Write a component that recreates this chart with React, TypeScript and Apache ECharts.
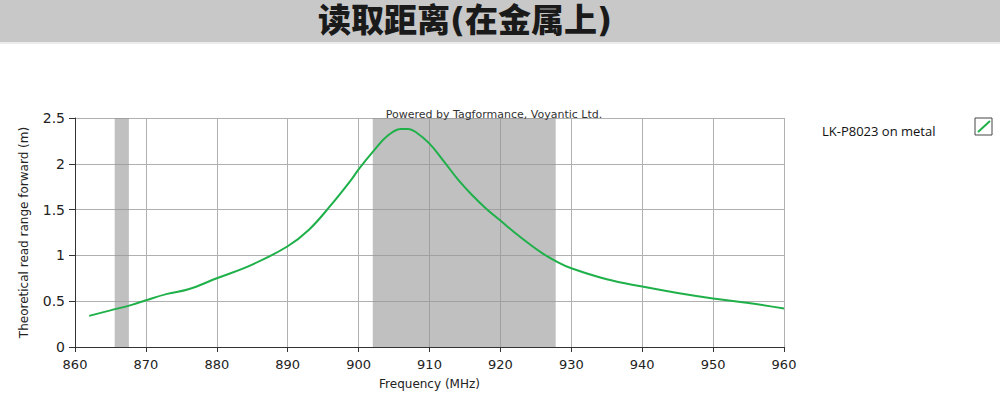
import React, { useEffect, useRef } from "react";
import * as echarts from "echarts";

const titleText = "读取距离(在金属上)";
const seriesName = "LK-P8023 on metal";
const xAxisName = "Frequency (MHz)";
const yAxisName = "Theoretical read range forward (m)";
const creditText = "Powered by Tagformance, Voyantic Ltd.";

const freq = [862, 865, 868, 870, 873, 876, 880, 885, 890, 893, 896, 899, 900, 902, 904, 906, 907, 908, 910, 912, 914, 916, 918, 920, 922, 924, 926, 928, 930, 935, 940, 945, 950, 955, 960];
const range = [0.34, 0.40, 0.46, 0.51, 0.58, 0.63, 0.75, 0.9, 1.1, 1.28, 1.54, 1.83, 1.94, 2.13, 2.3, 2.38, 2.38, 2.35, 2.22, 2.03, 1.83, 1.66, 1.51, 1.38, 1.25, 1.13, 1.02, 0.93, 0.86, 0.74, 0.66, 0.59, 0.53, 0.48, 0.42];
const bands: [number, number][] = [[865.6, 867.6], [902, 927.8]];

export default function App() {
  const ref = useRef<HTMLDivElement>(null);
  useEffect(() => {
    if (!ref.current) return;
    const chart = echarts.init(ref.current, undefined, { renderer: "svg" });
    const font = "Tahoma, 'DejaVu Sans', sans-serif";
    chart.setOption({
      animation: false,
      backgroundColor: "#ffffff",
      grid: { left: 75, right: 216, top: 118, bottom: 53 },
      xAxis: {
        type: "value",
        min: 860,
        max: 960,
        interval: 10,
        name: xAxisName,
        nameLocation: "middle",
        nameGap: 31,
        nameTextStyle: { fontFamily: font, fontSize: 12, color: "#222" },
        axisLine: { lineStyle: { color: "#333", width: 1 } },
        axisTick: { show: true, length: 5, lineStyle: { color: "#333" } },
        axisLabel: { fontFamily: font, fontSize: 13, color: "#222", margin: 11 },
        splitLine: { show: true, lineStyle: { color: "#b0b0b0", width: 1 } },
      },
      yAxis: {
        type: "value",
        min: 0,
        max: 2.5,
        interval: 0.5,
        name: yAxisName,
        nameLocation: "middle",
        nameGap: 45,
        nameTextStyle: { fontFamily: font, fontSize: 12, color: "#222" },
        axisLine: { show: true, lineStyle: { color: "#333", width: 1 } },
        axisTick: { show: true, length: 6, lineStyle: { color: "#333" } },
        axisLabel: { fontFamily: font, fontSize: 14, color: "#222", margin: 10 },
        splitLine: { show: true, lineStyle: { color: "#b0b0b0", width: 1 } },
      },
      series: [
        {
          name: seriesName,
          type: "line",
          data: freq.map((f, i) => [f, range[i]]),
          smooth: 0.4,
          symbol: "none",
          lineStyle: { color: "#1fb04a", width: 2 },
          markArea: {
            silent: true,
            itemStyle: { color: "rgba(150,150,150,0.6)" },
            data: bands.map((b) => [{ xAxis: b[0] }, { xAxis: b[1] }]),
          },
          z: 3,
        },
      ],
      graphic: [
        { type: "rect", left: 0, top: 0, shape: { width: 1000, height: 42 }, style: { fill: "#c8c8c8" } },
        { type: "rect", left: 0, top: 42, shape: { width: 1000, height: 2 }, style: { fill: "#ececec" } },
        {
          type: "text",
          x: 465,
          y: 20,
          style: {
            text: titleText,
            fontFamily: "'DejaVu Sans', 'Noto Sans CJK SC', sans-serif",
            fontSize: 33,
            fontWeight: 900,
            fill: "#1a1a1a",
            align: "center",
            verticalAlign: "middle",
          },
        },
        {
          type: "text",
          x: 494,
          y: 114,
          style: {
            text: creditText,
            fontFamily: font,
            fontSize: 11,
            fill: "#333",
            align: "center",
            verticalAlign: "middle",
          },
          z: 10,
        },
        {
          type: "text",
          x: 822,
          y: 131,
          style: {
            text: seriesName,
            fontFamily: "'Open Sans', sans-serif",
            fontSize: 13,
            fill: "#111",
            align: "left",
            verticalAlign: "middle",
          },
        },
        { type: "rect", x: 975, y: 118, shape: { width: 17, height: 17 }, style: { fill: "#fff", stroke: "#444", lineWidth: 1 } },
        { type: "line", shape: { x1: 978, y1: 132, x2: 990, y2: 121 }, style: { stroke: "#1fb04a", lineWidth: 2 } },
      ],
    });
    return () => chart.dispose();
  }, []);
  return <div ref={ref} style={{ position: "fixed", left: 0, top: 0, width: 1000, height: 400 }} />;
}
